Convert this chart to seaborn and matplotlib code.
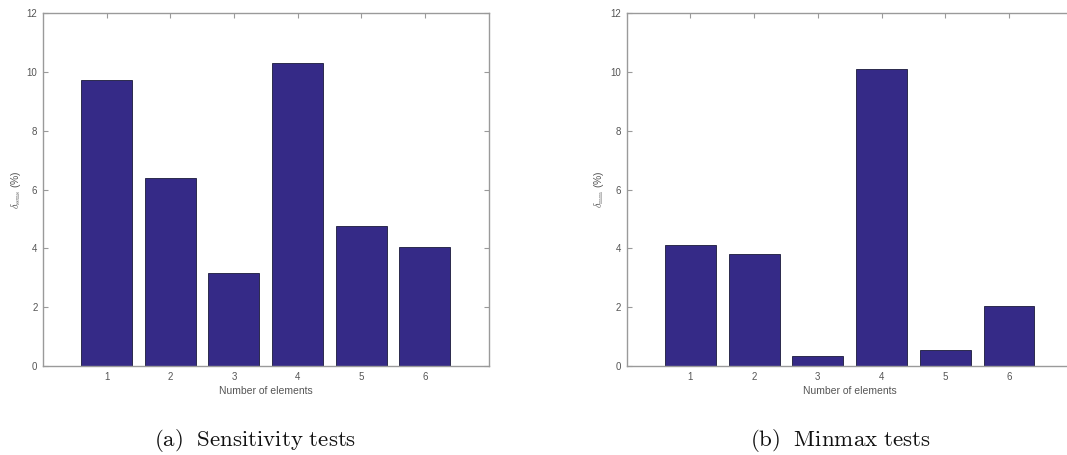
import matplotlib
matplotlib.use("Agg")
import matplotlib.pyplot as plt
import seaborn as sns
import pandas as pd

elements = [1, 2, 3, 4, 5, 6]
sens_values = [9.72, 6.39, 3.17, 10.29, 4.77, 4.06]
minmax_values = [4.12, 3.82, 0.34, 10.09, 0.53, 2.04]
y_ticks = [0, 2, 4, 6, 8, 10, 12]

sns.set_theme(style="white")
plt.rcParams["font.family"] = ["Liberation Sans", "DejaVu Sans"]
plt.rcParams["mathtext.fontset"] = "cm"

BAR = "#352a87"
SPINE = "#9a9a9a"
TXT = "#555555"

fig = plt.figure(figsize=(10.67, 4.55), dpi=100)
W, H = 1067, 455
bottom = (H - 366) / H
height = 353 / H
ax1 = fig.add_axes([43 / W, bottom, 445.5 / W, height])
ax2 = fig.add_axes([626.7 / W, bottom, 446 / W, height])

panels = [
    (ax1, sens_values, r"$\delta_{\rm sens}$ (%)", r"$\mathrm{(a)\ \ Sensitivity\ tests}$", 255),
    (ax2, minmax_values, r"$\delta_{\rm mm}$ (%)", r"$\mathrm{(b)\ \ Minmax\ tests}$", 840),
]

for ax, vals, ylab, cap, capx in panels:
    df = pd.DataFrame({"el": elements, "val": vals})
    sns.barplot(data=df, x="el", y="val", native_scale=True, width=0.8,
                color=BAR, saturation=1, edgecolor="#1a1a3a", linewidth=0.6, ax=ax)
    ax.set_xlim(0, 7)
    ax.set_ylim(0, 12)
    ax.set_xticks(elements)
    ax.set_xticklabels([str(e) for e in elements])
    ax.set_yticks(y_ticks)
    ax.set_yticklabels([str(t) for t in y_ticks])
    ax.tick_params(axis="both", direction="in", length=3.5, width=0.8, color=SPINE,
                   labelsize=7, labelcolor=TXT, top=True, right=True, bottom=True, left=True,
                   pad=4)
    for s in ax.spines.values():
        s.set_visible(True)
        s.set_color(SPINE)
        s.set_linewidth(1.0)
    ax.set_xlabel("Number of elements", fontsize=7.5, color=TXT, labelpad=3)
    ax.set_ylabel(ylab, fontsize=7.5, color=TXT, labelpad=3)
    fig.text(capx / W, 1 - 440 / H, cap, ha="center", va="center", fontsize=16.5, color="#111111")

fig.savefig("out.png", dpi=100)
